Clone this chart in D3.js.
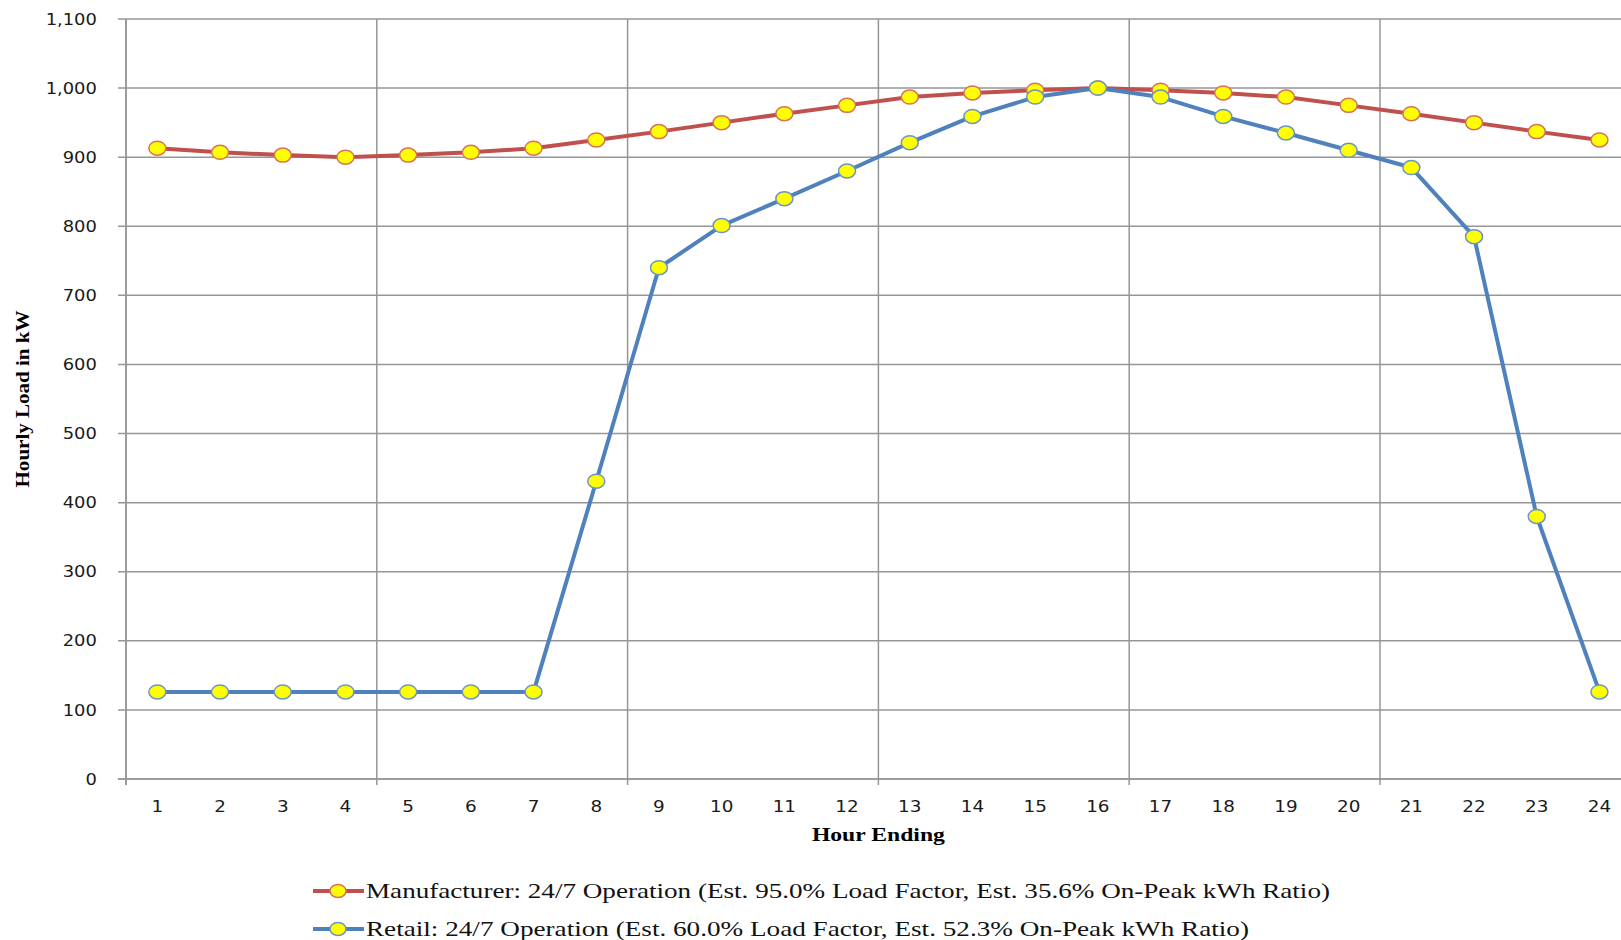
<!DOCTYPE html>
<html>
<head>
<meta charset="utf-8">
<script src="https://cdn.jsdelivr.net/npm/d3@7"></script>
<style>
  body { margin: 0; background: #fff; overflow: hidden; }
  svg { display: block; }
</style>
</head>
<body>
<div id="chart"></div>
<script>
const hours = d3.range(1, 25).map(String);
const manufacturer = [913, 907, 903, 900, 903, 907, 913, 925, 937, 950, 963, 975, 987, 993, 997, 1000, 997, 993, 987, 975, 963, 950, 937, 925];
const retail = [126, 126, 126, 126, 126, 126, 126, 431, 740, 801, 840, 880, 921, 959, 987, 1000, 987, 959, 935, 910, 885, 785, 380, 126];
const yTicks = [0, 100, 200, 300, 400, 500, 600, 700, 800, 900, 1000, 1100];
const seriesNames = [
  'Manufacturer: 24/7 Operation (Est. 95.0% Load Factor, Est. 35.6% On-Peak kWh Ratio)',
  'Retail: 24/7 Operation (Est. 60.0% Load Factor, Est. 52.3% On-Peak kWh Ratio)'
];

const width = 1621, height = 940;
const plotLeft = 126, plotTop = 19, plotBottom = 779;
// plot runs past the right edge of the picture, like the cropped original
const plotRight = plotLeft + 24 * 62.7;

const svg = d3.select('#chart').append('svg')
  .attr('width', width)
  .attr('height', height);

const x = d3.scaleBand().domain(hours).range([plotLeft, plotRight]);
const y = d3.scaleLinear().domain([0, 1100]).range([plotBottom, plotTop]);

const gridColor = '#969696';

// horizontal grid
svg.append('g')
  .selectAll('line')
  .data(yTicks)
  .enter().append('line')
  .attr('x1', plotLeft - 8).attr('x2', plotRight)
  .attr('y1', d => y(d)).attr('y2', d => y(d))
  .attr('stroke', gridColor).attr('stroke-width', 1.5);

// vertical grid every 4 hours
const vLines = hours.filter((h, i) => i % 4 === 0);
svg.append('g')
  .selectAll('line')
  .data(vLines)
  .enter().append('line')
  .attr('x1', d => x(d)).attr('x2', d => x(d))
  .attr('y1', plotTop).attr('y2', plotBottom + 6)
  .attr('stroke', gridColor).attr('stroke-width', 1.5);

// y axis
const yAxis = svg.append('g')
  .attr('transform', `translate(${plotLeft},0)`)
  .call(d3.axisLeft(y).tickValues(yTicks).tickSize(0).tickPadding(26).tickFormat(d3.format(',')));
yAxis.select('.domain').remove();
yAxis.selectAll('text')
  .attr('font-family', 'DejaVu Sans, Verdana, sans-serif')
  .attr('font-size', 16)
  .attr('fill', '#1a1a1a')
  .attr('transform', 'scale(1.12,1)');

// x axis
const xAxis = svg.append('g')
  .attr('transform', `translate(0,${plotBottom})`)
  .call(d3.axisBottom(x).tickSize(0).tickPadding(22));
xAxis.select('.domain').remove();
xAxis.selectAll('text')
  .attr('font-family', 'DejaVu Sans, Verdana, sans-serif')
  .attr('font-size', 16)
  .attr('fill', '#1a1a1a')
  .attr('transform', 'scale(1.15,1)');

svg.append('line')
  .attr('x1', plotLeft - 8).attr('x2', plotRight)
  .attr('y1', plotBottom).attr('y2', plotBottom)
  .attr('stroke', gridColor).attr('stroke-width', 1.5);
svg.append('line')
  .attr('x1', plotLeft).attr('x2', plotLeft)
  .attr('y1', plotTop).attr('y2', plotBottom + 6)
  .attr('stroke', gridColor).attr('stroke-width', 1.5);

// axis titles
svg.append('text')
  .attr('x', (plotLeft + plotRight) / 2).attr('y', 841)
  .attr('text-anchor', 'middle')
  .attr('font-family', 'Liberation Serif, Times New Roman, serif')
  .attr('font-weight', 'bold').attr('font-size', 19)
  .attr('textLength', 133).attr('lengthAdjust', 'spacingAndGlyphs')
  .text('Hour Ending');

svg.append('text')
  .attr('transform', `translate(29,${(plotTop + plotBottom) / 2}) rotate(-90)`)
  .attr('text-anchor', 'middle')
  .attr('font-family', 'Liberation Serif, Times New Roman, serif')
  .attr('font-weight', 'bold').attr('font-size', 19)
  .attr('textLength', 177).attr('lengthAdjust', 'spacingAndGlyphs')
  .text('Hourly Load in kW');

// series
const series = [
  { name: seriesNames[0], values: manufacturer, color: '#c0504d', edge: '#d8705a' },
  { name: seriesNames[1], values: retail, color: '#4f81bd', edge: '#6a95c4' }
];
const cx = d => x(d) + x.bandwidth() / 2;
const line = d3.line().x(d => cx(d.h)).y(d => y(d.v));

series.forEach(s => {
  const pts = hours.map((h, i) => ({ h, v: s.values[i] }));
  svg.append('path')
    .datum(pts)
    .attr('d', line)
    .attr('fill', 'none')
    .attr('stroke', s.color)
    .attr('stroke-width', 4)
    .attr('stroke-linejoin', 'round');
  svg.append('g')
    .selectAll('ellipse')
    .data(pts)
    .enter().append('ellipse')
    .attr('cx', d => cx(d.h)).attr('cy', d => y(d.v))
    .attr('rx', 8.5).attr('ry', 7)
    .attr('fill', '#ffff00')
    .attr('stroke', s.edge).attr('stroke-width', 1.5);
});

// legend
const legend = svg.append('g');
const legendY = [891, 929];
const legendW = [964, 883];
series.forEach((s, i) => {
  const g = legend.append('g').attr('transform', `translate(313,${legendY[i]})`);
  g.append('line').attr('x1', 0).attr('x2', 51).attr('y1', 0).attr('y2', 0)
    .attr('stroke', s.color).attr('stroke-width', 4);
  g.append('ellipse').attr('cx', 25).attr('cy', 0).attr('rx', 8).attr('ry', 6.5)
    .attr('fill', '#ffff00').attr('stroke', s.edge).attr('stroke-width', 1.5);
  g.append('text')
    .attr('x', 53).attr('y', 7)
    .attr('font-family', 'Liberation Serif, Times New Roman, serif')
    .attr('font-size', 22)
    .attr('fill', '#111')
    .attr('textLength', legendW[i]).attr('lengthAdjust', 'spacingAndGlyphs')
    .text(s.name);
});
</script>
</body>
</html>
